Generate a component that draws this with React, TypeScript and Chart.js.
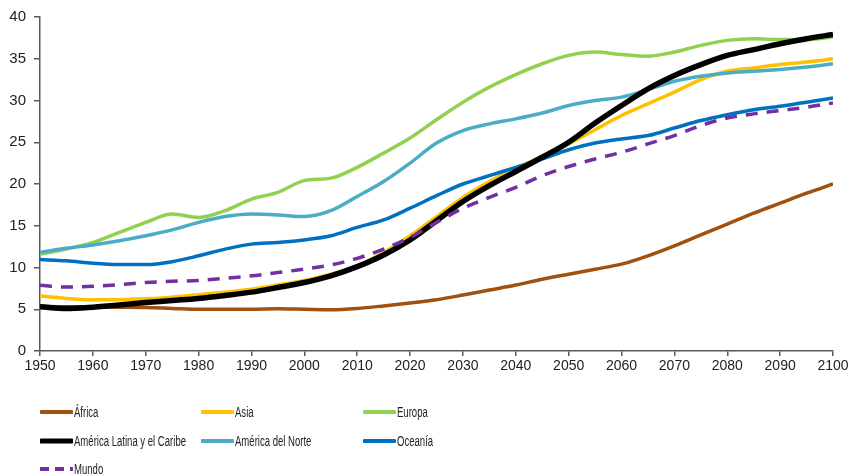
import React, { useEffect, useRef, useState } from "react";
import { Chart, registerables } from "chart.js";
Chart.register(...registerables);

const years = [1950, 1955, 1960, 1965, 1970, 1975, 1980, 1985, 1990, 1995, 2000, 2005, 2010, 2015, 2020, 2025, 2030, 2035, 2040, 2045, 2050, 2055, 2060, 2065, 2070, 2075, 2080, 2085, 2090, 2095, 2100];

const africa = [5.35, 5.3, 5.3, 5.25, 5.2, 5.1, 5.0, 5.0, 5.0, 5.05, 5.0, 4.95, 5.1, 5.4, 5.75, 6.15, 6.7, 7.3, 7.9, 8.6, 9.2, 9.8, 10.4, 11.4, 12.6, 13.9, 15.2, 16.5, 17.7, 18.9, 20.0];
const asia = [6.6, 6.3, 6.15, 6.15, 6.25, 6.45, 6.75, 7.05, 7.4, 7.9, 8.45, 9.2, 10.2, 11.8, 13.8, 16.1, 18.4, 20.3, 21.9, 23.3, 24.8, 26.5, 28.2, 29.6, 31.0, 32.5, 33.5, 33.9, 34.3, 34.6, 35.0];
const europa = [11.6, 12.2, 13.0, 14.2, 15.4, 16.4, 16.0, 16.8, 18.2, 19.0, 20.4, 20.7, 22.0, 23.7, 25.5, 27.7, 29.8, 31.6, 33.1, 34.4, 35.4, 35.8, 35.5, 35.3, 35.8, 36.6, 37.2, 37.4, 37.3, 37.3, 37.6];
const latam = [5.3, 5.1, 5.25, 5.5, 5.8, 6.05, 6.3, 6.65, 7.05, 7.6, 8.2, 9.0, 10.1, 11.5, 13.3, 15.6, 17.9, 19.8, 21.5, 23.2, 25.0, 27.3, 29.4, 31.4, 33.0, 34.3, 35.4, 36.1, 36.8, 37.4, 37.9];
const norteamerica = [11.8, 12.3, 12.7, 13.2, 13.8, 14.5, 15.4, 16.1, 16.4, 16.3, 16.1, 16.8, 18.5, 20.3, 22.5, 24.9, 26.4, 27.2, 27.8, 28.5, 29.4, 30.0, 30.4, 31.3, 32.3, 32.9, 33.3, 33.5, 33.7, 34.0, 34.4];
const oceania = [10.95, 10.8, 10.5, 10.35, 10.35, 10.7, 11.4, 12.2, 12.8, 13.0, 13.3, 13.8, 14.8, 15.7, 17.1, 18.6, 20.0, 21.0, 22.0, 23.0, 24.1, 24.9, 25.4, 25.8, 26.7, 27.6, 28.3, 28.9, 29.3, 29.8, 30.3];
const mundo = [7.86, 7.66, 7.75, 7.95, 8.2, 8.35, 8.45, 8.7, 9.0, 9.4, 9.8, 10.3, 11.1, 12.2, 13.6, 15.4, 17.1, 18.4, 19.6, 21.0, 22.1, 23.0, 23.8, 24.8, 25.8, 27.0, 27.9, 28.4, 28.8, 29.2, 29.7];

const seriesNames = ["África", "Asia", "Europa", "América Latina y el Caribe", "América del Norte", "Oceanía", "Mundo"];
const seriesValues = [africa, asia, europa, latam, norteamerica, oceania, mundo];
const seriesColors = ["#A0500F", "#FFC000", "#92D050", "#000000", "#4BACC6", "#0070C0", "#7030A0"];
const seriesWidths = [3.5, 3.5, 3.5, 5.5, 3.5, 3.5, 3.5];
const seriesOrder = [6, 5, 4, 1, 3, 2, 0];

const yTicks = [0, 5, 10, 15, 20, 25, 30, 35, 40];
const xTicks = [1950, 1960, 1970, 1980, 1990, 2000, 2010, 2020, 2030, 2040, 2050, 2060, 2070, 2080, 2090, 2100];

const legendCols = [40, 201, 363];
const legendRows = [412, 441, 469];

const FONT = "'Liberation Sans', Arial, sans-serif";
const LEGEND_FONT_SIZE = 14;

export default function App() {
  const ref = useRef<HTMLCanvasElement | null>(null);
  const [textScale, setTextScale] = useState(0.68);

  useEffect(() => {
    const c = document.createElement("canvas");
    const ctx = c.getContext("2d");
    if (ctx) {
      ctx.font = `${LEGEND_FONT_SIZE}px ${FONT}`;
      const w = ctx.measureText("América Latina y el Caribe").width;
      if (w > 0) setTextScale(112 / w);
    }
  }, []);

  useEffect(() => {
    if (!ref.current) return;
    const axisColor = "#595959";
    const chart = new Chart(ref.current, {
      type: "line",
      data: {
        datasets: seriesNames.map((name, i) => ({
          label: name,
          data: years.map((yr, j) => ({ x: yr, y: seriesValues[i][j] })),
          borderColor: seriesColors[i],
          backgroundColor: seriesColors[i],
          borderWidth: seriesWidths[i],
          borderDash: name === "Mundo" ? [12, 9] : [],
          pointRadius: 0,
          cubicInterpolationMode: "monotone",
          fill: false,
          order: seriesOrder[i],
        })),
      },
      options: {
        animation: false,
        responsive: false,
        devicePixelRatio: 1,
        layout: { padding: { left: 0, right: 21, top: 15, bottom: 98 } },
        plugins: { legend: { display: false }, tooltip: { enabled: false } },
        scales: {
          x: {
            type: "linear",
            min: 1950,
            max: 2100,
            afterBuildTicks: (s: any) => {
              s.ticks = xTicks.map((v) => ({ value: v }));
            },
            afterFit: (s: any) => {
              s.height = 25;
            },
            ticks: {
              autoSkip: false,
              maxRotation: 0,
              color: "#222",
              font: { family: FONT, size: 14 },
              padding: 2,
              callback: (v: any) => String(v),
            },
            grid: { display: true, drawOnChartArea: false, drawTicks: true, tickLength: 5, color: axisColor, lineWidth: 1.5 },
            border: { display: true, color: axisColor, width: 1.5 },
          },
          y: {
            type: "linear",
            min: 0,
            max: 40,
            afterBuildTicks: (s: any) => {
              s.ticks = yTicks.map((v) => ({ value: v }));
            },
            afterFit: (s: any) => {
              s.width = 40;
            },
            ticks: {
              color: "#222",
              font: { family: FONT, size: 15 },
              padding: 8,
              callback: (v: any) => String(v),
            },
            grid: { display: true, drawOnChartArea: false, drawTicks: true, tickLength: 6, color: axisColor, lineWidth: 1.5 },
            border: { display: true, color: axisColor, width: 1.5 },
          },
        },
      },
    });
    return () => chart.destroy();
  }, []);

  return (
    <div style={{ position: "absolute", left: 0, top: 0, width: 854, height: 474, background: "#fff" }}>
      <canvas ref={ref} width={854} height={474} style={{ position: "absolute", left: 0, top: 0, width: 854, height: 474 }} />
      {seriesNames.map((name, i) => {
        const col = legendCols[i % 3];
        const row = legendRows[Math.floor(i / 3)];
        const isDash = name === "Mundo";
        return (
          <div key={name} style={{ position: "absolute", left: col, top: row - 10, height: 20, display: "flex", alignItems: "center", whiteSpace: "nowrap" }}>
            <svg width={33} height={8} style={{ display: "block" }}>
              <line
                x1={isDash ? 0 : 1.5}
                y1={4}
                x2={isDash ? 33 : 31.5}
                y2={4}
                stroke={seriesColors[i]}
                strokeWidth={i === 3 ? 5 : 4}
                strokeLinecap={isDash ? "butt" : "round"}
                strokeDasharray={isDash ? "9 6" : undefined}
              />
            </svg>
            <span
              style={{
                display: "inline-block",
                marginLeft: 1,
                fontFamily: FONT,
                fontSize: LEGEND_FONT_SIZE,
                color: "#222",
                transform: `scaleX(${textScale})`,
                transformOrigin: "left center",
              }}
            >
              {name}
            </span>
          </div>
        );
      })}
    </div>
  );
}
